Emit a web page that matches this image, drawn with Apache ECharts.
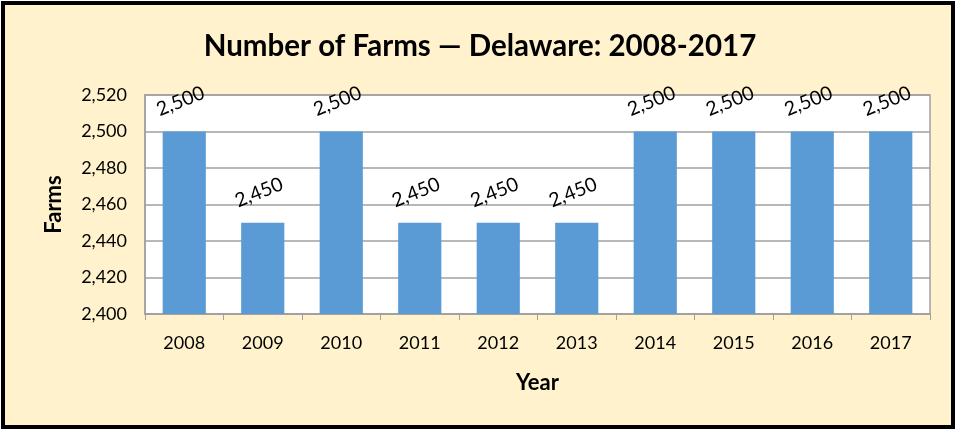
<!DOCTYPE html>
<html><head><meta charset="utf-8">
<script src="https://cdn.jsdelivr.net/npm/echarts@6/dist/echarts.min.js"></script>
<style>html,body{margin:0;padding:0;background:#fff}#c{width:960px;height:431px}</style>
</head><body><div id="c"></div>
<script>
const titleText = 'Number of Farms — Delaware: 2008-2017';
const categories = ['2008','2009','2010','2011','2012','2013','2014','2015','2016','2017'];
const farms = [2500,2450,2500,2450,2450,2450,2500,2500,2500,2500];
const yMin = 2400, yMax = 2520, yStep = 20;
const font = 'Lato, "Open Sans", sans-serif';
const chart = echarts.init(document.getElementById('c'));
chart.setOption({
  animation: false,
  backgroundColor: '#fff',
  graphic: [{type:'rect', z:-10, shape:{x:3,y:3,width:950,height:424}, style:{fill:'#FFF2CC', stroke:'#000', lineWidth:4}}],
  title: {text: titleText, left: 'center', top: 26, textStyle:{fontFamily: font, fontWeight:'bold', fontSize:29.5, color:'#000'}},
  grid: {left:145, right:30, top:95, bottom:117, show:true, backgroundColor:'#fff', borderColor:'#A0A0A0', borderWidth:1.5},
  xAxis: {type:'category', data: categories, name:'Year', nameLocation:'middle', nameGap:58,
    nameTextStyle:{fontFamily:font, fontWeight:'bold', fontSize:22, color:'#000'},
    axisLine:{lineStyle:{color:'#A0A0A0', width:1.5}}, axisTick:{show:true, length:6, lineStyle:{color:'#A0A0A0'}},
    axisLabel:{fontFamily:font, fontSize:18, color:'#000', margin:20}},
  yAxis: {type:'value', min:yMin, max:yMax, interval:yStep, name:'Farms', nameLocation:'middle', nameGap:80,
    nameTextStyle:{fontFamily:font, fontWeight:'bold', fontSize:22, color:'#000'},
    axisLine:{show:true, lineStyle:{color:'#A0A0A0', width:1.5}}, axisTick:{show:false},
    splitLine:{lineStyle:{color:'#A0A0A0', width:1.5}},
    axisLabel:{fontFamily:font, fontSize:18, color:'#000', margin:18, formatter: v => v.toLocaleString('en-US')}},
  series: [{type:'bar', data: farms, barWidth:'55%', itemStyle:{color:'#5B9BD5'},
    label:{show:true, position:'top', distance:21, rotate:22, fontFamily:font, fontSize:19.5, color:'#000',
      formatter: p => p.value.toLocaleString('en-US')}}]
});
</script></body></html>
